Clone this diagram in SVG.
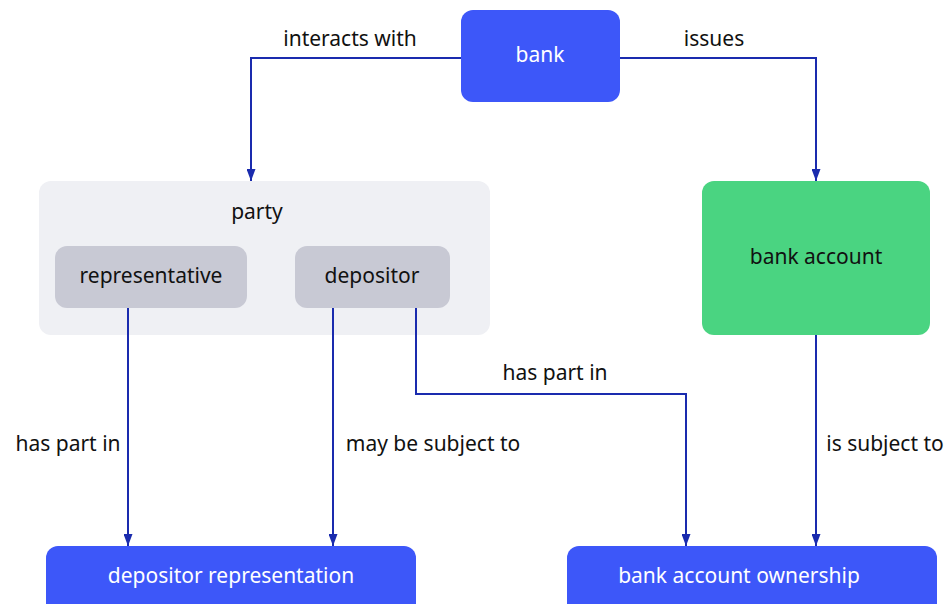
<svg xmlns="http://www.w3.org/2000/svg" width="946" height="604" viewBox="0 0 946 604">
<defs>
<marker id="arr" viewBox="0 0 12 9" refX="12" refY="4.5" markerWidth="12" markerHeight="9" markerUnits="userSpaceOnUse" orient="auto">
<path d="M0,0 L12,4.5 L0,9 Z" fill="#1A2BAE"/>
</marker>
<style>
text{font-family:"Noto Sans","Open Sans",sans-serif;font-size:21px;text-anchor:middle;dominant-baseline:central}
.dark{fill:#111111}
.light{fill:#ffffff}
.edge{fill:none;stroke:#1A2BAE;stroke-width:2;marker-end:url(#arr)}
.lbl{fill:#111111}
</style>
</defs>
<rect width="946" height="604" fill="#ffffff"/>
<g id="party">
<rect x="39" y="181" width="451" height="154" rx="12" fill="#EFF0F4"/>
<text x="257" y="211" class="dark">party</text>
</g>
<g id="representative">
<rect x="55" y="246" width="192" height="62" rx="12" fill="#C8C9D4"/>
<text x="151" y="275" class="dark">representative</text>
</g>
<g id="depositor">
<rect x="295" y="246" width="155" height="62" rx="12" fill="#C8C9D4"/>
<text x="372" y="275" class="dark">depositor</text>
</g>
<g id="bank">
<rect x="461" y="10" width="159" height="92" rx="12" fill="#3D57F9"/>
<text x="540" y="54" class="light">bank</text>
</g>
<g id="bank-account">
<rect x="702" y="181" width="228" height="154" rx="12" fill="#4AD481"/>
<text x="816" y="256" class="dark">bank account</text>
</g>
<g id="depositor-representation">
<rect x="46" y="546" width="370" height="70" rx="12" fill="#3D57F9"/>
<text x="231" y="575" class="light">depositor representation</text>
</g>
<g id="bank-account-ownership">
<rect x="567" y="546" width="370" height="70" rx="12" fill="#3D57F9"/>
<text x="739" y="575" class="light">bank account ownership</text>
</g>
<g id="connectors">
<path class="edge" d="M461,58 H251 V181"/>
<path class="edge" d="M620,58 H816 V181"/>
<path class="edge" d="M128,308 V546"/>
<path class="edge" d="M333,308 V546"/>
<path class="edge" d="M416,308 V394 H686 V546"/>
<path class="edge" d="M816,335 V546"/>
<text x="350" y="38" class="lbl">interacts with</text>
<text x="714" y="38" class="lbl">issues</text>
<text x="68" y="443" class="lbl">has part in</text>
<text x="433" y="443" class="lbl">may be subject to</text>
<text x="555" y="372" class="lbl">has part in</text>
<text x="885" y="443" class="lbl">is subject to</text>
</g>
</svg>
